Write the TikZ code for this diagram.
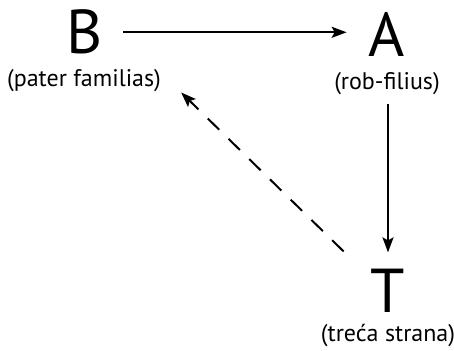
\documentclass[tikz,border=0pt]{standalone}
\usepackage{fontspec}
\setmainfont{PT Sans}
\usetikzlibrary{arrows.meta,calc}
\begin{document}
\begin{tikzpicture}[x=1pt,y=-1pt,
  big/.style={font=\fontsize{62}{62}\selectfont, inner sep=0pt, anchor=base},
  lbl/.style={font=\fontsize{24}{24}\selectfont, inner sep=0pt, anchor=base},
  conn/.style={line width=2pt, -{Stealth[length=15pt,width=11pt,inset=3pt]}},
  dashconn/.style={conn, dash pattern=on 16pt off 13pt}]
\useasboundingbox (0,0) rectangle (454,350);
\node[big] (B) at (85,54) {B};
\node[big] (A) at (387,57) {A};
\node[big] (T) at (388,312) {T};
\node[lbl] (fam) at (84,87) {(pater familias)};
\node[lbl] (rob) at (387,89) {(rob-filius)};
\node[lbl] (tre) at (388,341) {(treća strana)};
\draw[conn, shorten <=20pt, shorten >=22pt] (B.east) -- (B.east -| A.west);
\draw[conn, shorten <=10pt, shorten >=16pt] (T.north |- rob.south) -- (T.north);
\draw[dashconn] ($(T.north west)+(-27,-17)$) -- ($(fam.south east)+(20,0)$);
\end{tikzpicture}
\end{document}
